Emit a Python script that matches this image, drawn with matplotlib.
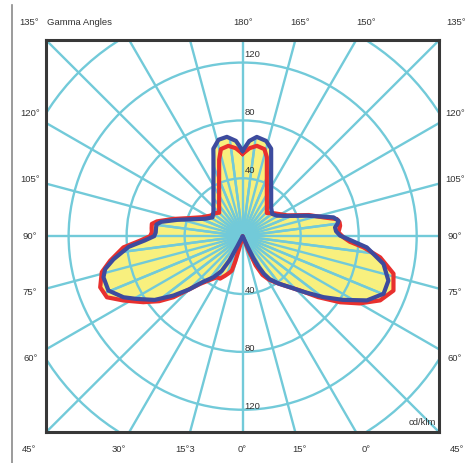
import matplotlib
matplotlib.use("Agg")
import matplotlib.pyplot as plt
from matplotlib.patches import Polygon, Circle
from matplotlib.lines import Line2D
import numpy as np

plt.rcParams['font.family'] = ['Liberation Sans', 'DejaVu Sans']

# luminous intensity in cd/klm vs gamma angle (deg), gamma < 0 = left half
gamma_blue = [-180, -176, -171, -166, -161.5, -160, -155, -150, -145, -140, -135, -130,
              -122, -115, -109, -104, -100, -97.7, -95, -92.4, -90, -87.5, -84.6, -79.8,
              -76.5, -73.5, -67.9, -62.8, -59.3, -54, -49.3, -45, -41, -35.3, -31, -28.5,
              -27.7, -27, 22, 25, 26, 27.5, 29.5, 32, 37, 42.8, 48, 52.9, 57.5, 62.6,
              67.7, 73, 78.8, 84.8, 88, 90.3, 93, 95.4, 97.5, 99.2, 101.7, 104, 107.7,
              115, 121, 127, 135, 140, 145, 150, 155, 160, 162, 166.2, 171.9, 176, 180]
cd_blue = [59, 66, 69.5, 68.7, 63.7, 58.9, 47.6, 40.3, 35.1, 31.3, 28.5, 26.3,
           24.5, 28.5, 36, 46.5, 57, 60, 60, 60, 61, 67.5, 79, 90.5,
           97.5, 100.1, 99.9, 92.4, 85, 75, 63, 52, 42, 34.8, 28, 19,
           8, 0, 0, 8, 17, 24, 30, 35, 41, 48.2, 58, 69.9, 82, 96.5,
           105, 105.1, 99, 86, 74, 67.2, 64.5, 64, 66, 66.9, 64, 56, 46.5,
           33, 27.5, 25.5, 27.8, 30.6, 34.3, 39.3, 46.5, 57.5, 63.6, 67.8, 69.3, 66, 59]

gamma_red = [-180, -175.5, -171, -166, -163, -160, -155, -150, -145, -140, -135, -131,
             -122.2, -115, -109.1, -104, -99.8, -97.7, -95, -92.4, -90, -87.5, -84.6,
             -79.5, -75.6, -70.2, -65.7, -61.6, -56.3, -52, -48.5, -41.6, -36, -32,
             -27.9, -24, -20, -17.4, -16.2, -15.5, -14, -12, 20, 22, 24, 27, 31, 36,
             40, 46.5, 51, 55.8, 60, 64.9, 70.1, 76, 81.2, 84.7, 87, 89.3, 92.3, 96.1,
             98.2, 100.3, 103.1, 107.7, 115, 125.8, 133.8, 140, 145, 150, 155, 160,
             163, 166, 171.1, 175.5, 180]
cd_red = [57, 61, 63.2, 62, 55.4, 47.4, 38.4, 32.4, 28.3, 25.2, 22.9, 24.4,
          26.5, 31, 38.3, 49.2, 60, 63.2, 63, 62.7, 63.8, 70.8, 82.6,
          92.9, 100.3, 104.4, 102.7, 93.5, 82.3, 73, 63.7, 44.1, 37, 33.5,
          33.2, 30, 27, 25, 18, 10, 3, 0, 0, 10, 22, 30, 35, 40,
          44.5, 54.6, 67, 81.3, 93, 104.7, 110.6, 107.2, 96, 83.7, 74, 69.5, 66.1, 67.6,
          67.5, 66, 57.2, 48, 34, 27, 23.1, 26, 29.1, 33.4, 39.5, 48.8,
          57.1, 62, 63.2, 61, 57]

ring_values = [40, 80, 120, 160]
ring_labels = [40, 80, 120]

# edge labels: (angle from the axis, text)
top_labels = [(-45, '135°'), (0, '180°'), (15, '165°'), (30, '150°'), (45, '135°')]
bottom_labels = [(-45, '45°'), (-30, '30°'), (-15, '15°3'), (0, '0°'), (15, '15°'),
                 (30, '0°'), (45, '45°')]
side_labels = [(30, '120°'), (15, '105°'), (0, '90°'), (-15, '75°'), (-30, '60°')]

cyan = '#72CAD9'
yellow = '#F8F07E'
txt = '#333333'


def to_xy(g, r):
    g = np.radians(np.asarray(g, dtype=float))
    r = np.asarray(r, dtype=float)
    return r * np.sin(g), -r * np.cos(g)


fig = plt.figure(figsize=(4.65, 4.63), dpi=100)
ax = fig.add_axes([46 / 465, 30.7 / 463, 393.3 / 465, 392.3 / 463])
lim = 135.6
ax.set_xlim(-lim, lim)
ax.set_ylim(-lim, lim)
ax.set_xticks([])
ax.set_yticks([])
for s in ax.spines.values():
    s.set_color('#383838')
    s.set_linewidth(2.2)
    s.set_zorder(6)

# filled areas
xb, yb = to_xy(gamma_blue, cd_blue)
xr, yr = to_xy(gamma_red, cd_red)
polys = []
for xx, yy in [(xb, yb), (xr, yr)]:
    p = Polygon(np.column_stack([xx, yy]), closed=True, fc=yellow, ec='none', zorder=1)
    ax.add_patch(p)
    polys.append(p)

# rings
for r in ring_values:
    ax.add_patch(Circle((0, 0), r, fill=False, ec=cyan, lw=1.7, zorder=2))

# main spokes every 15 deg
for a in np.arange(0, 360, 15):
    sx, sy = to_xy([a, a], [0, 300])
    ax.plot(sx, sy, color=cyan, lw=1.7, zorder=2, solid_capstyle='butt')

# extra spokes inside the filled area
for a in np.arange(7.5, 360, 15):
    sx, sy = to_xy([a, a], [0, 300])
    for p in polys:
        ln, = ax.plot(sx, sy, color=cyan, lw=1.7, zorder=2, solid_capstyle='butt')
        ln.set_clip_path(p)

# curves
ax.plot(xr, yr, color='#E8302E', lw=3.0, zorder=4, solid_joinstyle='round')
ax.plot(xb, yb, color='#3D4B9E', lw=3.0, zorder=5, solid_joinstyle='round')

# ring values
for r in ring_labels:
    ax.text(1.2, r + 5.5, str(r), fontsize=6.8, color=txt, ha='left', va='center', zorder=7)
    ax.text(1.2, -r + 2.5, str(r), fontsize=6.8, color=txt, ha='left', va='center', zorder=7)

# angle labels around the frame
d = 147.5
for a, s in top_labels:
    ax.text(d * np.tan(np.radians(a)), d, s, fontsize=6.8, color=txt,
            ha='center', va='center', clip_on=False)
for a, s in bottom_labels:
    ax.text(d * np.tan(np.radians(a)), -d, s, fontsize=6.8, color=txt,
            ha='center', va='center', clip_on=False)
for a, s in side_labels:
    yy = 146.5 * np.tan(np.radians(a))
    ax.text(-146.5, yy, s, fontsize=6.8, color=txt, ha='center', va='center', clip_on=False)
    ax.text(146.5, yy, s, fontsize=6.8, color=txt, ha='center', va='center', clip_on=False)

ax.text(-134.8, d, 'Gamma Angles', fontsize=6.8, color=txt, ha='left', va='center', clip_on=False)
ax.text(133.3, -128.8, 'cd/klm', fontsize=6.8, color=txt, ha='right', va='center', zorder=7)

fig.add_artist(Line2D([12 / 465, 12 / 465], [0, 458 / 463], color='#8a8a8a', lw=1.2))

fig.savefig('out.png', dpi=100)
